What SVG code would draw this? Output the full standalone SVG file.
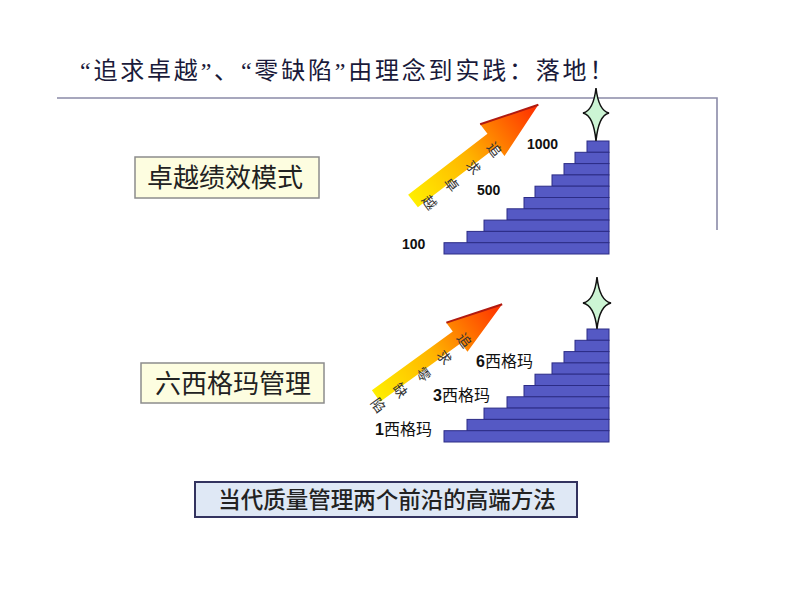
<svg xmlns="http://www.w3.org/2000/svg" width="800" height="600" viewBox="0 0 800 600">
<style>
.title{font-family:"Liberation Serif","Noto Sans CJK SC",serif;font-size:24px;letter-spacing:2.8px;fill:#1a1a3a}
.boxlbl{font-family:"Noto Sans CJK SC",sans-serif;font-size:26px;fill:#222}
.num{font-family:"Liberation Sans",Arial,sans-serif;font-weight:bold;font-size:14px;fill:#111}
.sig{font-family:"Liberation Sans","Noto Sans CJK SC",sans-serif;font-size:16px;fill:#111}
.sig .d{font-weight:bold}
.arr{font-family:"Noto Sans CJK SC",sans-serif;font-size:14px;fill:#333}
.step{fill:#5559c4;stroke:#2c2c86;stroke-width:1}
.star{fill:#ccf5d4;stroke:#111;stroke-width:1.5}
.frame{fill:none;stroke:#8a8aa8;stroke-width:1.6}
</style>
<defs>
<linearGradient id="g" gradientUnits="userSpaceOnUse" x1="0" y1="0" x2="158" y2="0">
<stop offset="0" stop-color="#ffee00"/>
<stop offset="0.45" stop-color="#ffb400"/>
<stop offset="1" stop-color="#ff2a00"/>
</linearGradient>
</defs>

<text class="title" x="80" y="79">“追求卓越”、“零缺陷”由理念到实践：落地！</text>

<g id="frame"><polyline class="frame" points="57,98 717,98 717,230"/></g>

<g id="box1">
<rect x="135" y="157" width="184" height="41" fill="#fdfde0" stroke="#8c8c8c" stroke-width="1.5"/>
<text class="boxlbl" x="225" y="187" text-anchor="middle">卓越绩效模式</text>
</g>
<g id="box2">
<rect x="141" y="363" width="183" height="40" fill="#fdfde0" stroke="#8c8c8c" stroke-width="1.5"/>
<text class="boxlbl" x="233" y="393" text-anchor="middle">六西格玛管理</text>
</g>
<g id="box3">
<rect x="195" y="482" width="382" height="35" fill="#dfe8f5" stroke="#33335f" stroke-width="2"/>
<text class="boxlbl" x="387" y="508" text-anchor="middle" style="font-size:22.5px;font-weight:500">当代质量管理两个前沿的高端方法</text>
</g>

<g id="stairs1">
<rect class="step" x="587" y="141" width="22" height="11.3"/>
<rect class="step" x="575" y="152.3" width="34" height="11.3"/>
<rect class="step" x="564" y="163.6" width="45" height="11.3"/>
<rect class="step" x="552" y="174.9" width="57" height="11.3"/>
<rect class="step" x="535" y="186.2" width="74" height="11.3"/>
<rect class="step" x="524" y="197.5" width="85" height="11.3"/>
<rect class="step" x="507" y="208.8" width="102" height="11.3"/>
<rect class="step" x="484" y="220.1" width="125" height="11.3"/>
<rect class="step" x="467" y="231.4" width="142" height="11.3"/>
<rect class="step" x="444" y="242.7" width="165" height="11.3"/>
</g>
<g id="star1"><path class="star" d="M596,88 Q598.5,110.5 609,113 Q598.5,115.5 596,141 Q593.5,115.5 583,113 Q593.5,110.5 596,88 Z"/></g>

<g id="stairs2">
<rect class="step" x="587" y="329" width="22" height="11.3"/>
<rect class="step" x="575" y="340.3" width="34" height="11.3"/>
<rect class="step" x="564" y="351.6" width="45" height="11.3"/>
<rect class="step" x="552" y="362.9" width="57" height="11.3"/>
<rect class="step" x="535" y="374.2" width="74" height="11.3"/>
<rect class="step" x="524" y="385.5" width="85" height="11.3"/>
<rect class="step" x="507" y="396.8" width="102" height="11.3"/>
<rect class="step" x="484" y="408.1" width="125" height="11.3"/>
<rect class="step" x="467" y="419.4" width="142" height="11.3"/>
<rect class="step" x="444" y="430.7" width="165" height="11.3"/>
</g>
<g id="star2"><path class="star" d="M597,277 Q599.5,300.5 611,303 Q599.5,305.5 597,329 Q594.5,305.5 583,303 Q594.5,300.5 597,277 Z"/></g>

<g id="arrow1">
<g transform="translate(413,201) rotate(-37.5)">
<path d="M0,-8 L100,-8 L100,-20 L158,0 L100,20 L100,8 L0,8 Z" fill="url(#g)"/>
<path d="M100,-20 L158,0" stroke="#b01a10" stroke-width="2" fill="none"/>
</g>
<text class="arr" text-anchor="middle" dominant-baseline="central" transform="translate(495,149) rotate(52.5)">追</text>
<text class="arr" text-anchor="middle" dominant-baseline="central" transform="translate(474,167) rotate(52.5)">求</text>
<text class="arr" text-anchor="middle" dominant-baseline="central" transform="translate(452,184) rotate(52.5)">卓</text>
<text class="arr" text-anchor="middle" dominant-baseline="central" transform="translate(430,202) rotate(52.5)">越</text>
</g>

<g id="arrow2">
<g transform="translate(376,396) rotate(-36)">
<path d="M0,-7 L100,-7 L100,-18 L156,0 L100,18 L100,7 L0,7 Z" fill="url(#g)"/>
<path d="M100,-18 L156,0" stroke="#b01a10" stroke-width="2" fill="none"/>
</g>
<text class="arr" text-anchor="middle" dominant-baseline="central" transform="translate(465,340) rotate(54)">追</text>
<text class="arr" text-anchor="middle" dominant-baseline="central" transform="translate(445,357) rotate(54)">求</text>
<text class="arr" text-anchor="middle" dominant-baseline="central" transform="translate(424,374) rotate(54)">零</text>
<text class="arr" text-anchor="middle" dominant-baseline="central" transform="translate(401,390) rotate(54)">缺</text>
<text class="arr" text-anchor="middle" dominant-baseline="central" transform="translate(379,405) rotate(54)">陷</text>
</g>

<g id="labels1">
<text class="num" x="527" y="149">1000</text>
<text class="num" x="477" y="195">500</text>
<text class="num" x="402" y="249">100</text>
</g>
<g id="labels2">
<text class="sig" x="476" y="367"><tspan class="d">6</tspan>西格玛</text>
<text class="sig" x="433" y="401"><tspan class="d">3</tspan>西格玛</text>
<text class="sig" x="375" y="435"><tspan class="d">1</tspan>西格玛</text>
</g>
</svg>
